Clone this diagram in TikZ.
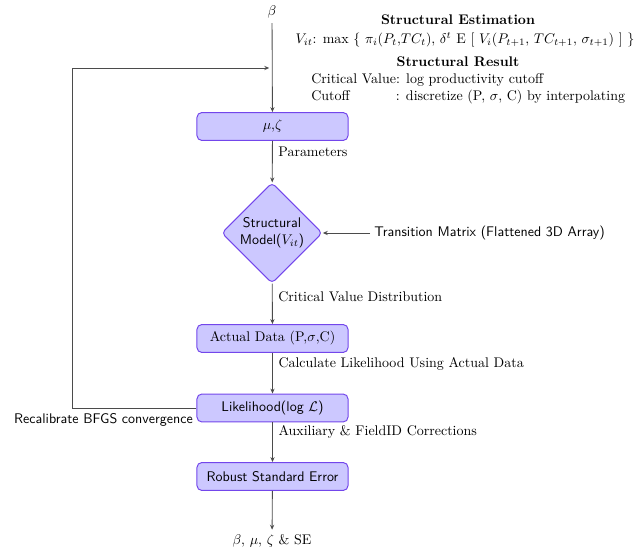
\documentclass[tikz,border=0pt]{standalone}
\usetikzlibrary{shapes.geometric,arrows.meta}
\definecolor{boxfill}{RGB}{204,200,255}
\definecolor{boxline}{RGB}{115,70,235}
\definecolor{lnk}{RGB}{75,75,75}
\begin{document}
\begin{tikzpicture}[x=0.715pt,y=-0.715pt,
  box/.style={draw=boxline,fill=boxfill,rounded corners=3.5pt,line width=0.7pt,minimum width=108pt,minimum height=20pt,inner sep=2pt},
  dmd/.style={diamond,draw=boxline,fill=boxfill,rounded corners=3pt,line width=0.7pt,minimum width=72pt,minimum height=72pt,aspect=1,inner sep=0pt,align=center,font=\sffamily},
  conn/.style={draw=lnk,line width=0.6pt,-{Stealth[length=3.5pt,width=3pt]}},
  lbl/.style={anchor=west,inner sep=0pt},
  elbl/.style={anchor=west,inner sep=0pt,pos=0.27,xshift=4pt}]
\useasboundingbox (0,0) rectangle (641,556);
\node (beta) at (272,12) {$\beta$};
\node[box] (mz) at (272.5,126.5) {$\mu$,$\zeta$};
\node[dmd] (sm) at (272,233) {Structural\\Model($V_{it}$)};
\node[box] (ad) at (272.5,338.5) {Actual Data (P,$\sigma$,C)};
\node[box,font=\sffamily] (lk) at (272.5,408) {Likelihood(log $\mathcal{L}$)};
\node[box,font=\sffamily] (rse) at (272.5,476.5) {Robust Standard Error};
\node (out) at (272,541) {$\beta$, $\mu$, $\zeta$ \& SE};
\node[anchor=west,inner sep=3pt,font=\sffamily] (tm) at (370,233) {Transition Matrix (Flattened 3D Array)};
\coordinate (mainpt) at (272,68);
\coordinate (c1) at (72,408);
\coordinate (c2) at (72,68);
% top-right text
\node (se) at (458,20) {\textbf{Structural Estimation}};
\node (eq) at (465,40) {$V_{it}$: max \{ $\pi_i(P_t$,$TC_t)$, $\delta^t$ E [ $V_i(P_{t+1}$, $TC_{t+1}$, $\sigma_{t+1})$ ] \}};
\node (sr) at (458,62) {\textbf{Structural Result}};
\node[lbl] (cv) at (311,80) {Critical Value: log productivity cutoff};
\node[lbl] (co) at (311,97) {Cutoff\hspace{33pt}: discretize (P, $\sigma$, C) by interpolating};
% connectors
\draw[conn] (beta) -- (mz);
\draw[conn] (mz) -- node[elbl] {Parameters} (sm);
\draw[conn] (tm) -- (sm);
\draw[conn] (sm) -- node[elbl,pos=0.33] {Critical Value Distribution} (ad);
\draw[conn] (ad) -- node[elbl] {Calculate Likelihood Using Actual Data} (lk);
\draw[conn] (lk) -- node[elbl,pos=0.24] {Auxiliary \& FieldID Corrections} (rse);
\draw[conn] (rse) -- (out);
\draw[conn] (lk.west) -- (c1) -- (c2) -- ([xshift=-2]mainpt);
\node[anchor=north east,font=\sffamily,inner sep=0pt] (rb) at (193,413) {Recalibrate BFGS convergence};
\end{tikzpicture}
\end{document}
